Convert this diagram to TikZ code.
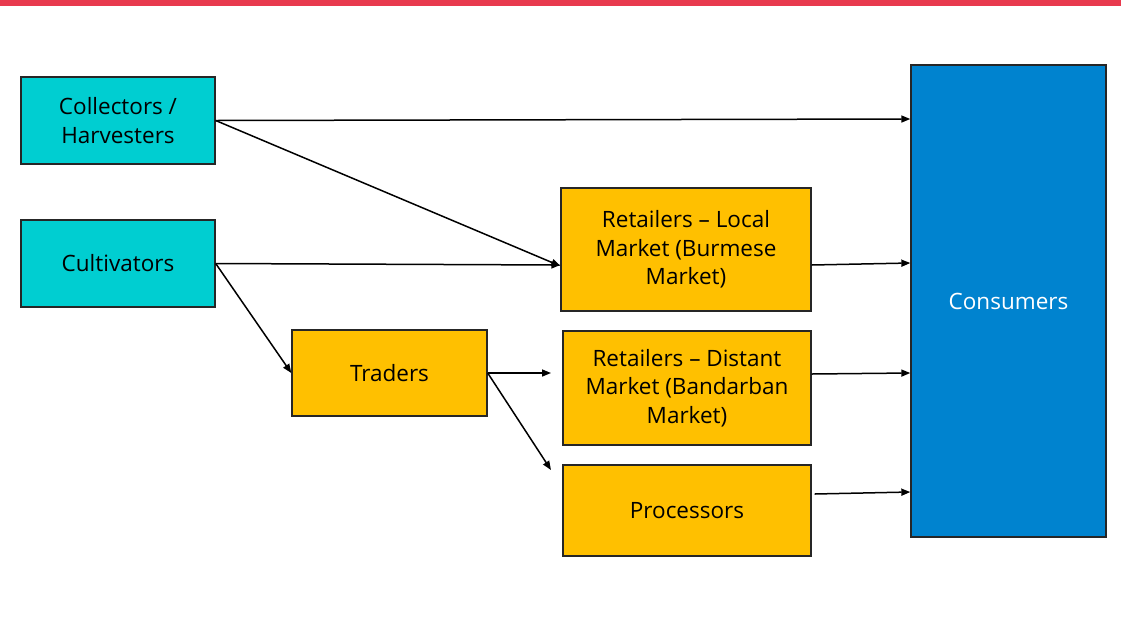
\documentclass[tikz,border=0pt]{standalone}
\usepackage{fontspec}
\setmainfont{Open Sans}
\usetikzlibrary{arrows.meta}
\definecolor{barred}{HTML}{E83A4E}
\definecolor{cyanbox}{HTML}{00CED1}
\definecolor{yellowbox}{HTML}{FFC000}
\definecolor{bluebox}{HTML}{0083CF}
\definecolor{edge}{HTML}{262626}
\tikzset{
  box/.style={draw=edge, line width=1.4pt, inner sep=0pt, align=center,
    font=\fontsize{22.5}{28.5}\selectfont},
  cbox/.style={box, fill=cyanbox},
  ybox/.style={box, fill=yellowbox},
  bbox/.style={box, fill=bluebox, text=white},
  conn/.style={line width=1.5pt, -{Triangle[length=9pt,width=7pt]}}
}
\begin{document}
\begin{tikzpicture}[x=1pt,y=-1pt]
\useasboundingbox (0,0) rectangle (1121,630);
\fill[barred] (0,0) rectangle (1121,6);
\node[cbox, minimum width=194pt, minimum height=87pt] (col) at (118,120.5) {Collectors /\\Harvesters};
\node[cbox, minimum width=194pt, minimum height=87pt] (cult) at (118,263.5) {Cultivators};
\node[ybox, minimum width=195pt, minimum height=86pt] (trad) at (389.5,373) {Traders};
\node[ybox, minimum width=250pt, minimum height=123pt] (rl) at (686,249.5) {Retailers – Local\\Market (Burmese\\Market)};
\node[ybox, minimum width=248pt, minimum height=114pt] (rd) at (687,388) {Retailers – Distant\\Market (Bandarban\\Market)};
\node[ybox, minimum width=248pt, minimum height=91pt] (proc) at (687,510.5) {Processors};
\node[bbox, minimum width=195pt, minimum height=472pt] (cons) at (1008.5,301) {Consumers};
\coordinate (t1) at (551,373);
\coordinate (t2) at (551,470);
\draw[conn] (col.east) -- (cons.west |- 0,119);
\draw[conn] (col.east) -- (rl.west |- 0,266);
\draw[conn] (cult.east) -- (rl.west |- 0,265);
\draw[conn] (cult.east) -- (trad.west);
\draw[conn] (trad.east) -- (t1);
\draw[conn] (trad.east) -- (t2);
\draw[conn] (rl.east |- 0,265) -- (cons.west |- 0,263);
\draw[conn] (rd.east |- 0,374) -- (cons.west |- 0,373);
\draw[conn] ([xshift=3pt]proc.east |- 0,494) -- (cons.west |- 0,492);
\end{tikzpicture}
\end{document}
